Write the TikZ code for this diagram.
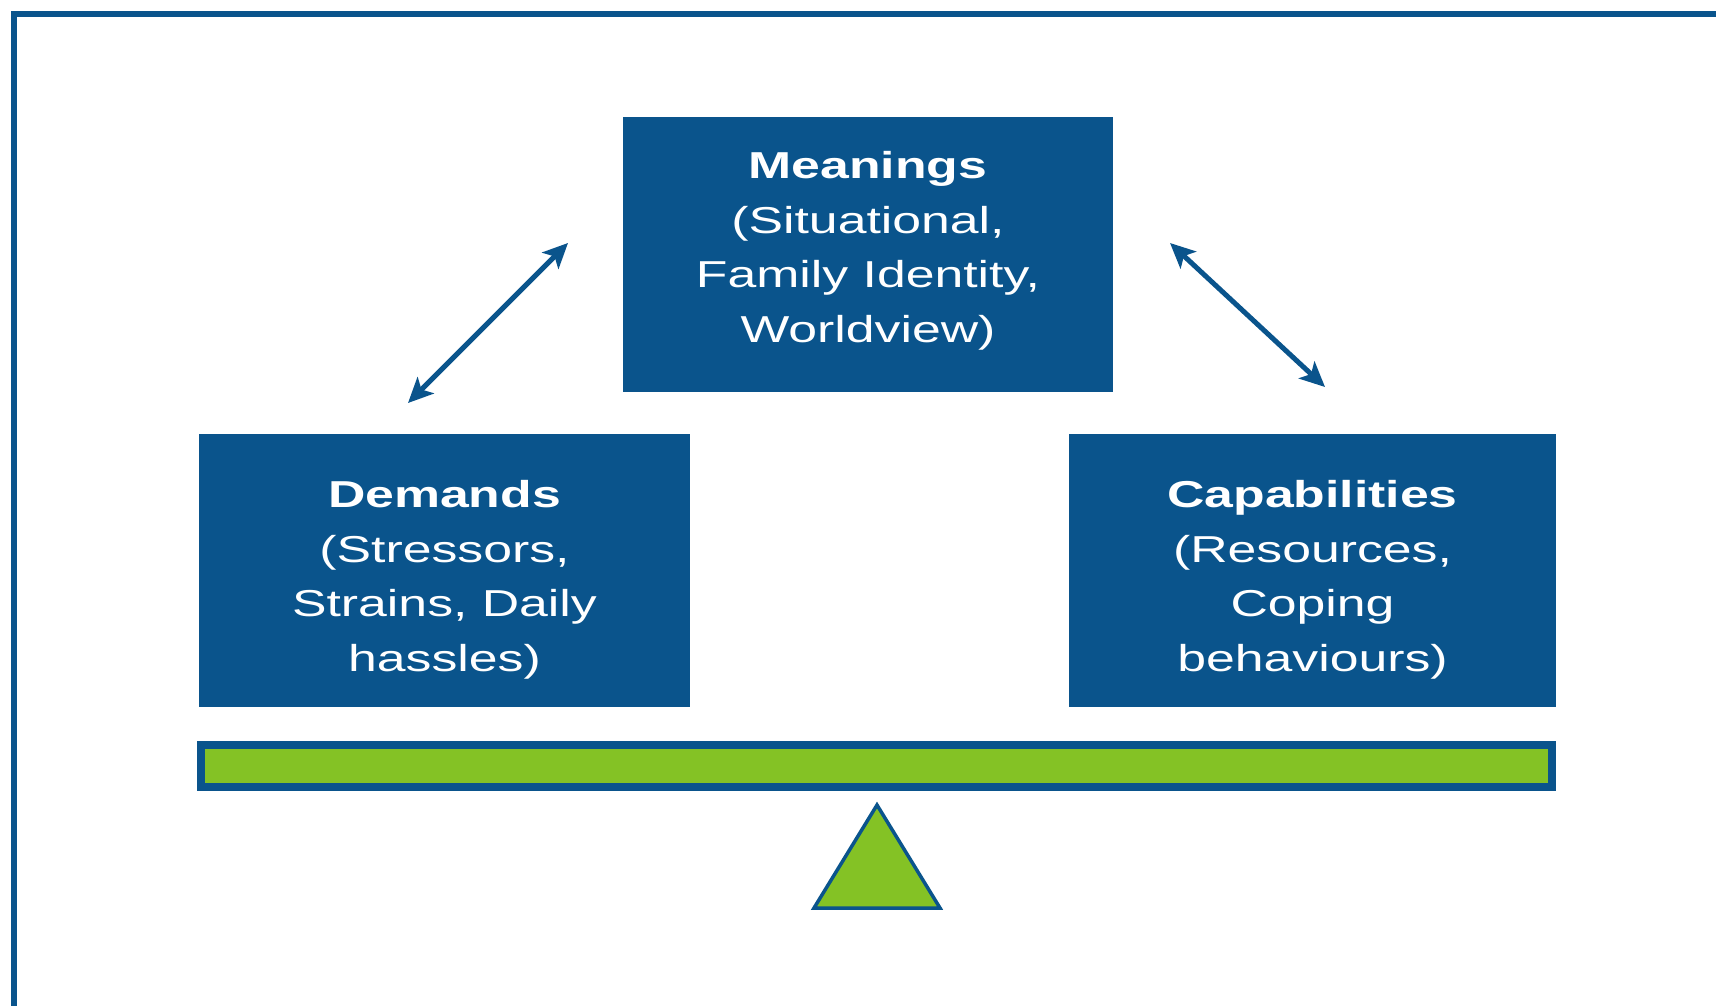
\documentclass[tikz,border=0pt]{standalone}
\usepackage{fontspec}
\setmainfont{Liberation Sans}[FakeStretch=1.38]
\usetikzlibrary{arrows.meta}
\definecolor{fblue}{HTML}{0A548C}
\definecolor{fgreen}{HTML}{84C225}
\tikzset{
  box/.style={fill=fblue, draw=none, text=white, align=center, inner sep=0pt,
    font=\fontsize{37.5}{54.5}\selectfont},
  dblarrow/.style={draw=fblue, line width=5pt, {Stealth[length=25pt,width=23pt,inset=6pt]}-{Stealth[length=25pt,width=23pt,inset=6pt]}},
}
\begin{document}
\begin{tikzpicture}[x=1pt,y=-1pt]
\useasboundingbox (0,0) rectangle (1716,1006);
\fill[white] (0,0) rectangle (1716,1006);
% frame
\draw[fblue, line width=5.5pt] (14,1012) -- (14,14) -- (1722,14);
% boxes
\fill[fblue] (623,117) rectangle (1113,392);
\node[box] (mean) at (868,251) {\textbf{Meanings}\\(Situational,\\Family Identity,\\Worldview)};
\fill[fblue] (199,434) rectangle (690,707);
\node[box] (dem) at (444.5,580) {\textbf{Demands}\\(Stressors,\\Strains, Daily\\hassles)};
\fill[fblue] (1069,434) rectangle (1556,707);
\node[box] (cap) at (1312.5,580) {\textbf{Capabilities}\\(Resources,\\Coping\\behaviours)};
% arrows
\coordinate (la1) at (408,403);
\coordinate (la2) at (568,243);
\coordinate (ra1) at (1170,243);
\coordinate (ra2) at (1325,387);
\draw[dblarrow] (la1) -- (la2);
\draw[dblarrow] (ra1) -- (ra2);
% beam
\draw[fill=fgreen, draw=fblue, line width=8pt] (201,745) rectangle (1552,787);
% fulcrum
\draw[fill=fgreen, draw=fblue, line width=3.5pt, line join=miter] (877,805) -- (940,908) -- (814,908) -- cycle;
\end{tikzpicture}
\end{document}
